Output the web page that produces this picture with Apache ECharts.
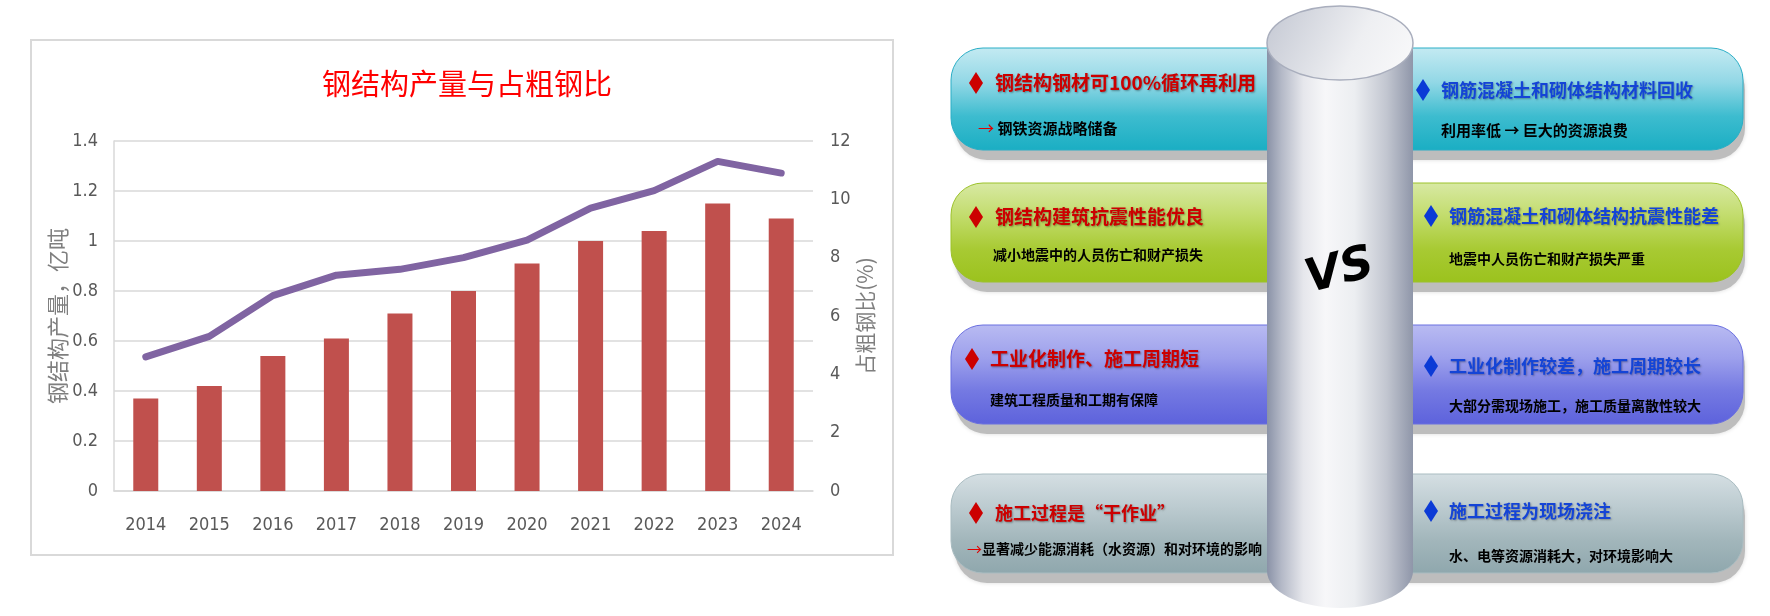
<!DOCTYPE html>
<html>
<head>
<meta charset="utf-8">
<script src="https://cdn.jsdelivr.net/npm/echarts@6/dist/echarts.min.js"></script>
<style>
html,body{margin:0;padding:0;background:#fff;}
#c{width:1770px;height:616px;}
</style>
</head>
<body>
<div id="c"></div>
<script>
// ---- chart data ----
const years = ['2014','2015','2016','2017','2018','2019','2020','2021','2022','2023','2024'];
const production = [0.37, 0.42, 0.54, 0.61, 0.71, 0.80, 0.91, 1.00, 1.04, 1.15, 1.09]; // 亿吨
const shareOfCrude = [4.6, 5.3, 6.7, 7.4, 7.6, 8.0, 8.6, 9.7, 10.3, 11.3, 10.9];   // %
const chartTitle = '钢结构产量与占粗钢比';
const leftAxisName = '钢结构产量，亿吨';
const rightAxisName = '占粗钢比(%)';

// ---- comparison panel texts ----
const leftTitles = ['钢结构钢材可100%循环再利用', '钢结构建筑抗震性能优良', '工业化制作、施工周期短', '施工过程是“干作业”'];
const leftSubs = ['{r|→} 钢铁资源战略储备', '减小地震中的人员伤亡和财产损失', '建筑工程质量和工期有保障', '{r|→}显著减少能源消耗（水资源）和对环境的影响'];
const rightTitles = ['钢筋混凝土和砌体结构材料回收', '钢筋混凝土和砌体结构抗震性能差', '工业化制作较差，施工周期较长', '施工过程为现场浇注'];
const rightSubs = ['利用率低 → 巨大的资源浪费', '地震中人员伤亡和财产损失严重', '大部分需现场施工，施工质量离散性较大', '水、电等资源消耗大，对环境影响大'];
const vsText = 'VS';

const CJK = '"Noto Sans CJK SC", "Noto Sans", sans-serif';
const NARROW = '"Liberation Sans Narrow", "DejaVu Sans Condensed", "Noto Sans", sans-serif';

const chart = echarts.init(document.getElementById('c'), null, {renderer: 'canvas'});

function lg(stops) {
  return {type: 'linear', x: 0, y: 0, x2: 0, y2: 1,
    colorStops: stops.map((c, i) => ({offset: i / (stops.length - 1), color: c}))};
}

const rows = [
  {y: 48, h: 102, grad: ['#c4eaf2', '#93d8e6', '#3dbccf', '#1aaec3'], stroke: '#2aaec6',
   lt: {dx: 976, tx: 995, ty: 83, fs: 19, sy: 128, sx: 978, sfs: 15},
   rt: {dx: 1423, tx: 1441, ty: 90, fs: 18, sy: 130, sfs: 15}},
  {y: 183, h: 99, grad: ['#d8e9a4', '#c2dc6c', '#a8ca33', '#9bc21d'], stroke: '#9cc22a',
   lt: {dx: 976, tx: 995, ty: 217, fs: 19, sy: 255, sx: 993, sfs: 14},
   rt: {dx: 1431, tx: 1449, ty: 216, fs: 18, sy: 259, sfs: 14}},
  {y: 325, h: 99, grad: ['#b9bbf2', '#9da0ec', '#7479e2', '#5d62dc'], stroke: '#6b70e0',
   lt: {dx: 972, tx: 990, ty: 359, fs: 19, sy: 400, sx: 990, sfs: 14},
   rt: {dx: 1431, tx: 1449, ty: 366, fs: 18, sy: 406, sfs: 14}},
  {y: 474, h: 99, grad: ['#d5dfe3', '#bccbd0', '#a2b6bb', '#8fa7ad'], stroke: '#a9bcc1',
   lt: {dx: 976, tx: 995, ty: 513, fs: 18, sy: 549, sx: 967, sfs: 14},
   rt: {dx: 1431, tx: 1449, ty: 511, fs: 18, sy: 556, sfs: 14}}
];

const graphics = [];
graphics.push({type: 'rect', z: -10, silent: true,
  shape: {x: 31, y: 40, width: 862, height: 515},
  style: {fill: 'none', stroke: '#d9d9d9', lineWidth: 2}});

rows.forEach((r, i) => {
  graphics.push({type: 'rect', z: 1, silent: true,
    shape: {x: 955, y: r.y + 10, width: 790, height: r.h, r: 32},
    style: {fill: '#bdbdbd', shadowBlur: 4, shadowColor: 'rgba(0,0,0,0.15)'}});
  graphics.push({type: 'rect', z: 2, silent: true,
    shape: {x: 951, y: r.y, width: 792, height: r.h, r: 32},
    style: {fill: lg(r.grad), stroke: r.stroke, lineWidth: 1}});
  [[r.lt.dx, r.lt.ty, '#cc0000'], [r.rt.dx, r.rt.ty, '#0b3ad6']].forEach(d => {
    graphics.push({type: 'polygon', z: 5, silent: true,
      shape: {points: [[d[0], d[1] - 11], [d[0] + 7, d[1]], [d[0], d[1] + 11], [d[0] - 7, d[1]]]},
      style: {fill: d[2]}});
  });
  graphics.push({type: 'text', z: 5, silent: true, x: r.lt.tx, y: r.lt.ty,
    style: {text: leftTitles[i], fill: '#cc0000', fontSize: r.lt.fs, fontWeight: 'bold', fontFamily: CJK,
      verticalAlign: 'middle', align: 'left', textShadowColor: 'rgba(0,0,0,0.35)', textShadowBlur: 2, textShadowOffsetX: 1, textShadowOffsetY: 1}});
  graphics.push({type: 'text', z: 5, silent: true, x: r.lt.sx, y: r.lt.sy,
    style: {text: leftSubs[i], fill: '#000', fontSize: r.lt.sfs, fontWeight: 'bold', fontFamily: CJK,
      verticalAlign: 'middle', align: 'left',
      rich: {r: {fill: '#e00000', fontSize: r.lt.sfs + 1, fontFamily: CJK}}}});
  graphics.push({type: 'text', z: 5, silent: true, x: r.rt.tx, y: r.rt.ty,
    style: {text: rightTitles[i], fill: '#1444d6', fontSize: r.rt.fs, fontWeight: 'bold', fontFamily: CJK,
      verticalAlign: 'middle', align: 'left', textShadowColor: 'rgba(0,0,0,0.3)', textShadowBlur: 2, textShadowOffsetX: 1, textShadowOffsetY: 1}});
  graphics.push({type: 'text', z: 5, silent: true, x: r.rt.tx, y: r.rt.sy,
    style: {text: rightSubs[i], fill: '#000', fontSize: r.rt.sfs, fontWeight: 'bold', fontFamily: CJK,
      verticalAlign: 'middle', align: 'left'}});
});

const cylGrad = {type: 'linear', x: 0, y: 0, x2: 1, y2: 0, colorStops: [
  {offset: 0, color: '#8a92a7'}, {offset: 0.1, color: '#b4b9c7'}, {offset: 0.25, color: '#e6e7ec'},
  {offset: 0.4, color: '#f7f7f9'}, {offset: 0.6, color: '#eceef1'}, {offset: 0.82, color: '#c2c6d0'},
  {offset: 1, color: '#8f96a9'}]};
graphics.push({type: 'ellipse', z: 10, silent: true, shape: {cx: 1340, cy: 571, rx: 73, ry: 37},
  style: {fill: cylGrad}});
graphics.push({type: 'rect', z: 10, silent: true, shape: {x: 1267, y: 43, width: 146, height: 528},
  style: {fill: cylGrad}});
graphics.push({type: 'ellipse', z: 11, silent: true, shape: {cx: 1340, cy: 43, rx: 73, ry: 37},
  style: {fill: {type: 'linear', x: 0, y: 0, x2: 1, y2: 1, colorStops: [
    {offset: 0, color: '#c3c7d2'}, {offset: 0.6, color: '#eeeff2'}, {offset: 1, color: '#fafafb'}]},
    stroke: '#a9aebd', lineWidth: 1.5}});
graphics.push({type: 'text', z: 12, silent: true, x: 1340, y: 272, rotation: 0.26,
  style: {text: vsText, fill: '#000', font: 'italic 900 46px "DejaVu Sans", sans-serif',
    align: 'center', verticalAlign: 'middle'}});

const option = {
  animation: false,
  backgroundColor: '#ffffff',
  title: {
    text: chartTitle, left: 462, top: 64, textAlign: 'center',
    textStyle: {color: '#ff0000', fontSize: 29, fontWeight: 'normal', fontFamily: CJK}
  },
  grid: {left: 114, right: 957, top: 141, bottom: 125, containLabel: false},
  xAxis: {
    type: 'category', data: years,
    axisLine: {show: true, lineStyle: {color: '#d9d9d9', width: 1.5}},
    axisTick: {show: false},
    axisLabel: {color: '#595959', fontSize: 18, margin: 25, fontFamily: NARROW}
  },
  yAxis: [{
    type: 'value', min: 0, max: 1.4, interval: 0.2, position: 'left',
    name: leftAxisName, nameLocation: 'middle', nameGap: 39, nameRotate: 90,
    nameTextStyle: {color: '#7f7f7f', fontSize: 22, fontFamily: CJK},
    axisLine: {show: true, lineStyle: {color: '#d9d9d9', width: 1.5}},
    axisTick: {show: false},
    splitLine: {show: true, lineStyle: {color: '#d9d9d9', width: 1.5}},
    axisLabel: {color: '#595959', fontSize: 18, margin: 16, fontFamily: NARROW}
  }, {
    type: 'value', min: 0, max: 12, interval: 2, position: 'right',
    name: rightAxisName, nameLocation: 'middle', nameGap: 34, nameRotate: 90,
    nameTextStyle: {color: '#7f7f7f', fontSize: 21, fontFamily: CJK},
    axisLine: {show: false}, axisTick: {show: false}, splitLine: {show: false},
    axisLabel: {color: '#595959', fontSize: 18, margin: 17, fontFamily: NARROW}
  }],
  series: [{
    type: 'bar', name: '钢结构产量', data: production, yAxisIndex: 0,
    barWidth: 25, itemStyle: {color: '#c0504d'}, z: 2
  }, {
    type: 'line', name: '占粗钢比', data: shareOfCrude, yAxisIndex: 1,
    symbol: 'none', showSymbol: false, z: 3,
    lineStyle: {color: '#8064a2', width: 7, cap: 'round', join: 'round'}
  }],
  graphic: {elements: graphics}
};
chart.setOption(option);
</script>
</body>
</html>
